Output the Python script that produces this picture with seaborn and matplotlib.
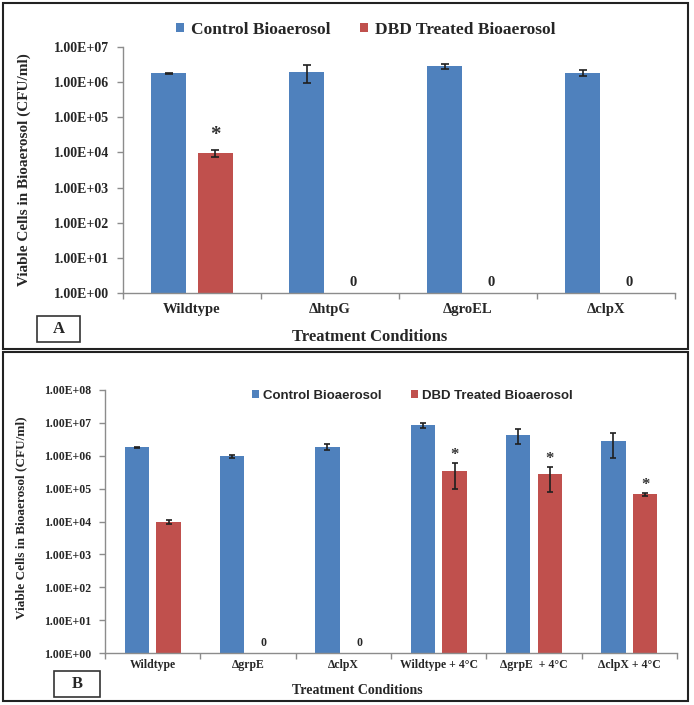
import numpy as np
import pandas as pd
import matplotlib
matplotlib.use('Agg')
import matplotlib.pyplot as plt
import seaborn as sns
from matplotlib.patches import Patch, Rectangle
from matplotlib.path import Path
from matplotlib.ticker import FixedLocator, NullLocator, FuncFormatter

# panel A data
cats_a = ['Wildtype', 'ΔhtpG', 'ΔgroEL', 'ΔclpX']
ctrl_a = [1.8e6, 2.0e6, 2.8e6, 1.85e6]
ctrl_a_err = [0.08e6, 1.05e6, 0.5e6, 0.4e6]
dbd_a = [9.5e3, 0, 0, 0]
dbd_a_err = [2.2e3, 0, 0, 0]
sig_a = [True, False, False, False]

# panel B data
cats_b = ['Wildtype', 'ΔgrpE', 'ΔclpX', 'Wildtype + 4°C', 'ΔgrpE  + 4°C', 'ΔclpX + 4°C']
ctrl_b = [1.8e6, 0.95e6, 1.9e6, 8.5e6, 4.4e6, 2.85e6]
ctrl_b_err = [0.08e6, 0.1e6, 0.45e6, 1.6e6, 2.2e6, 2.0e6]
dbd_b = [1.0e4, 0, 0, 3.5e5, 2.7e5, 6.7e4]
dbd_b_err = [0.15e4, 0, 0, 2.5e5, 1.9e5, 0.8e4]
sig_b = [False, False, False, True, True, True]

CTRL = 'Control Bioaerosol'
DBD = 'DBD Treated Bioaerosol'
colors = {CTRL: '#4F81BD', DBD: '#C0504D'}
W, H = 694, 705

sns.set_style('white')
plt.rcParams['font.family'] = ['Liberation Serif', 'DejaVu Serif']
plt.rcParams['font.weight'] = 'bold'

fig = plt.figure(figsize=(W / 100, H / 100), dpi=100)


def fx(px):
    return px / W


def fy(py):
    return 1 - py / H


def panel(ax, cats, ctrl, ctrl_err, dbd, dbd_err, sig, ymax, tick_fs, cat_fs,
          ast_fs, ast_off, zero_off, cap, tick_pad, xpad):
    n = len(cats)
    df = pd.DataFrame({'cond': cats * 2,
                       'group': [CTRL] * n + [DBD] * n,
                       'cfu': ctrl + dbd})
    width = 0.667
    sns.barplot(data=df, x='cond', y='cfu', hue='group', order=cats,
                hue_order=[CTRL, DBD], palette=colors, saturation=1,
                width=width, gap=0.24, errorbar=None, legend=False,
                linewidth=0, ax=ax)
    ax.set_yscale('log')
    off = width / 4
    x = np.arange(n)
    ax.errorbar(x - off, ctrl, yerr=ctrl_err, fmt='none', ecolor='#1f1f1f',
                elinewidth=1.2, capsize=cap, capthick=1.2)
    for i in range(n):
        if dbd[i] > 0:
            ax.errorbar(x[i] + off, dbd[i], yerr=dbd_err[i], fmt='none',
                        ecolor='#1f1f1f', elinewidth=1.2, capsize=cap,
                        capthick=1.2)
        else:
            ax.annotate('0', xy=(x[i] + off, 1), xytext=(0, zero_off),
                        textcoords='offset points', ha='center',
                        va='baseline', fontsize=cat_fs, fontweight='bold')
        if sig[i]:
            ax.annotate('*', xy=(x[i] + off, dbd[i] + dbd_err[i]),
                        xytext=(0, ast_off), textcoords='offset points',
                        ha='center', va='baseline', fontsize=ast_fs,
                        fontweight='bold', color='#333333')
    ax.set_ylim(1, ymax)
    ax.set_xlim(-0.5, n - 0.5)
    ax.yaxis.set_minor_locator(NullLocator())
    ax.yaxis.set_major_formatter(FuncFormatter(lambda v, p: f'{v:.2E}'))
    ax.set_xlabel('')
    ax.set_ylabel('')
    for s in ['top', 'right']:
        ax.spines[s].set_visible(False)
    for s in ['left', 'bottom']:
        ax.spines[s].set_color('#8c8c8c')
        ax.spines[s].set_linewidth(1)
    ax.tick_params(axis='y', which='major', left=True, length=4, width=1,
                   color='#8c8c8c', pad=tick_pad, labelsize=tick_fs)
    ax.tick_params(axis='x', which='major', bottom=True, length=0,
                   pad=xpad, labelsize=cat_fs)
    ax.xaxis.set_minor_locator(FixedLocator(np.arange(n + 1) - 0.5))
    ax.tick_params(axis='x', which='minor', bottom=True, length=4, width=1,
                   color='#8c8c8c')
    for lab in ax.get_xticklabels() + ax.get_yticklabels():
        lab.set_fontweight('bold')


def wide_box(wpx, hpx):
    # frame of a fixed pixel size around a panel letter
    def style(x0, y0, width, height, mutation_size):
        cx, cy = x0 + width / 2, y0 + height / 2
        hw, hh = wpx / 2, hpx / 2
        return Path([(cx - hw, cy - hh), (cx + hw, cy - hh), (cx + hw, cy + hh),
                     (cx - hw, cy + hh), (cx - hw, cy - hh)], closed=True)
    return style


# ---- panel A
axA = fig.add_axes([fx(123), fy(293), fx(675 - 123), (293 - 47) / H])
panel(axA, cats_a, ctrl_a, ctrl_a_err, dbd_a, dbd_a_err, sig_a, 1e7,
      tick_fs=10, cat_fs=10.5, ast_fs=15, ast_off=7, zero_off=5,
      cap=3, tick_pad=6, xpad=7)

# ---- panel B
axB = fig.add_axes([fx(105), fy(653), fx(677 - 105), (653 - 390) / H])
panel(axB, cats_b, ctrl_b, ctrl_b_err, dbd_b, dbd_b_err, sig_b, 1e8,
      tick_fs=8.5, cat_fs=8.5, ast_fs=12, ast_off=3, zero_off=5,
      cap=2.5, tick_pad=6, xpad=4)

handles = [Patch(facecolor=colors[CTRL], edgecolor='none'),
           Patch(facecolor=colors[DBD], edgecolor='none')]
fig.legend(handles, [CTRL, DBD], loc='center left',
           bbox_to_anchor=(fx(176), fy(30)), ncol=2, frameon=False,
           borderpad=0, borderaxespad=0, handlelength=0.45, handleheight=0.45,
           handletextpad=0.4, columnspacing=1.7,
           prop={'family': 'Liberation Serif', 'weight': 'bold', 'size': 12.5})
fig.legend(handles, [CTRL, DBD], loc='center left',
           bbox_to_anchor=(fx(252), fy(396)), ncol=2, frameon=False,
           borderpad=0, borderaxespad=0, handlelength=0.55, handleheight=0.55,
           handletextpad=0.3, columnspacing=2.2,
           prop={'family': 'Liberation Sans', 'weight': 'bold', 'size': 9.5})

ylab = 'Viable Cells in Bioaerosol (CFU/ml)'
fig.text(fx(24), fy(170), ylab, rotation=90, ha='center', va='center',
         fontsize=11, fontweight='bold')
fig.text(fx(21), fy(518), ylab, rotation=90, ha='center', va='center',
         fontsize=9.5, fontweight='bold')
fig.text(fx(370), fy(337), 'Treatment Conditions', ha='center', va='center',
         fontsize=12, fontweight='bold')
fig.text(fx(357), fy(691), 'Treatment Conditions', ha='center', va='center',
         fontsize=10, fontweight='bold')

# panel letters in their boxes
fig.text(fx(58.5), fy(329), 'A', ha='center', va='center', fontsize=12,
         fontweight='bold',
         bbox=dict(boxstyle=wide_box(43, 26), fc='white', ec='#333333', lw=1.2))
fig.text(fx(77), fy(684), 'B', ha='center', va='center', fontsize=12,
         fontweight='bold',
         bbox=dict(boxstyle=wide_box(46, 26), fc='white', ec='#333333', lw=1.2))

# outer borders of the two panels
fig.patches.append(Rectangle((fx(3), fy(349)), fx(685), 346 / H,
                             transform=fig.transFigure, fill=False,
                             ec='#222222', lw=1.5))
fig.patches.append(Rectangle((fx(3), fy(701)), fx(685), 349 / H,
                             transform=fig.transFigure, fill=False,
                             ec='#222222', lw=1.5))

fig.savefig('out.png', dpi=100)
